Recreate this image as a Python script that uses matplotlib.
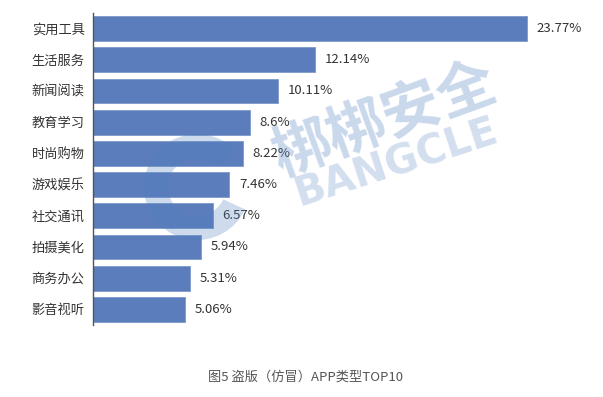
import matplotlib
matplotlib.use("Agg")
import matplotlib.pyplot as plt
from matplotlib.patches import Wedge

plt.rcParams['font.family'] = ['Noto Sans CJK SC', 'DejaVu Sans']

categories = ["实用工具", "生活服务", "新闻阅读", "教育学习", "时尚购物",
              "游戏娱乐", "社交通讯", "拍摄美化", "商务办公", "影音视听"]
values = [23.77, 12.14, 10.11, 8.6, 8.22, 7.46, 6.57, 5.94, 5.31, 5.06]
value_labels = ["23.77%", "12.14%", "10.11%", "8.6%", "8.22%",
                "7.46%", "6.57%", "5.94%", "5.31%", "5.06%"]
caption = "图5 盗版（仿冒）APP类型TOP10"

W, H = 603, 397
fig = plt.figure(figsize=(W / 100, H / 100), dpi=100)
fig.patch.set_facecolor("white")

left, right, top, bottom = 93, 583, 13, 325
ax = fig.add_axes([left / W, (H - bottom) / H, (right - left) / W, (bottom - top) / H])
ypos = list(range(len(categories)))
ax.barh(ypos, values, height=0.8, color="#5B7DBB", edgecolor="#7E9ACB", linewidth=0.6, zorder=2)
ax.set_ylim(len(categories) - 0.5, -0.5)
ax.set_xlim(0, (right - left) / 18.26)
ax.set_yticks(ypos)
ax.set_yticklabels(categories, fontsize=9.5, color="#333333")
ax.tick_params(axis="y", length=0, pad=6)
ax.set_xticks([])
for s in ["top", "right", "bottom"]:
    ax.spines[s].set_visible(False)
ax.spines["left"].set_color("#555555")
ax.spines["left"].set_linewidth(1.0)
for y, v, lab in zip(ypos, values, value_labels):
    ax.annotate(lab, (v, y), xytext=(7, 0), textcoords="offset points",
                va="center", ha="left", fontsize=9.5, color="#333333")

# watermark
wm = "#4F7FC0"
fig.text(385 / W, 1 - 120 / H, "梆梆安全", fontsize=42, fontweight="heavy", color=wm,
         alpha=0.3, rotation=20, ha="center", va="center", zorder=5)
fig.text(396 / W, 1 - 163 / H, "BANGCLE", fontsize=29, fontweight="bold", color=wm,
         alpha=0.25, rotation=18, ha="center", va="center", zorder=5,
         family=["DejaVu Sans"])
ring = Wedge((197, H - 187), 53, 45, 335, width=24, transform=None,
             facecolor=wm, alpha=0.28, edgecolor="none", zorder=5)
fig.add_artist(ring)

fig.text(306 / W, 1 - 377 / H, caption, fontsize=9.5, color="#555555", ha="center", va="center")

fig.savefig("out.png", dpi=100, facecolor="white")
